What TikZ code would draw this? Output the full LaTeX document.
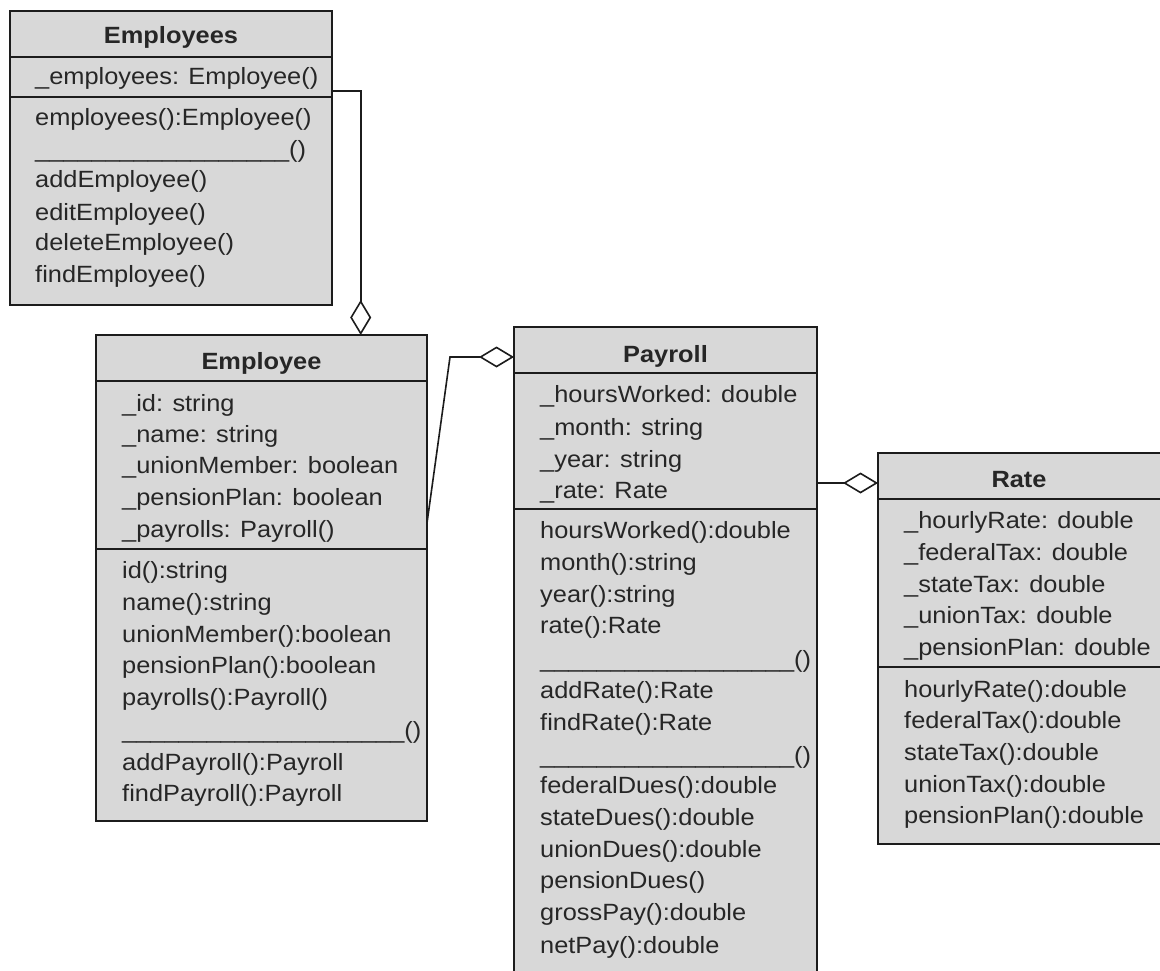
\documentclass[tikz,border=0pt]{standalone}
\usepackage{fontspec}
\setmainfont{Liberation Sans}[FakeStretch=1.08]
\usetikzlibrary{arrows.meta}
\definecolor{boxfill}{HTML}{D8D8D8}
\definecolor{ink}{HTML}{1C1C1C}
\definecolor{txtcol}{HTML}{262626}
\begin{document}
\begin{tikzpicture}[x=1pt,y=-1pt,
  classbox/.style={draw=ink, fill=boxfill, line width=1.8pt, anchor=north west, inner sep=0pt, outer sep=0pt},
  sepline/.style={draw=ink, line width=1.8pt},
  txt/.style={anchor=base west, inner sep=0pt, text=txtcol, font=\fontsize{23.5}{28}\selectfont},
  ttl/.style={anchor=base, inner sep=0pt, text=txtcol, font=\fontsize{23.5}{28}\selectfont\bfseries},
  agg/.style={draw=ink, line width=1.6pt, -{Diamond[open, length=35pt, width=21pt]}}]
\useasboundingbox[fill=white] (0,0) rectangle (1160,971);

% ---------------- Employees ----------------
\node[classbox, minimum width=322pt, minimum height=294pt] (emps) at (10,11) {};
\draw[sepline] ([yshift=-46pt]emps.north west) -- ([yshift=-46pt]emps.north east);
\draw[sepline] ([yshift=-86pt]emps.north west) -- ([yshift=-86pt]emps.north east);
\node[ttl] (empsT) at (171,44) {Employees};
\node[txt] (emps1) at (35,85) {\_employees: Employee()};
\node[txt] (emps2) at (35,126) {employees():Employee()};
\node[txt] (emps3) at (35,158) {\_\_\_\_\_\_\_\_\_\_\_\_\_\_\_\_\_\_()};
\node[txt] (emps4) at (35,188) {addEmployee()};
\node[txt] (emps5) at (35,220) {editEmployee()};
\node[txt] (emps6) at (35,251) {deleteEmployee()};
\node[txt] (emps7) at (35,282) {findEmployee()};

% ---------------- Employee ----------------
\node[classbox, minimum width=331pt, minimum height=486pt] (emp) at (96,335) {};
\draw[sepline] ([yshift=-46pt]emp.north west) -- ([yshift=-46pt]emp.north east);
\draw[sepline] ([yshift=-214pt]emp.north west) -- ([yshift=-214pt]emp.north east);
\node[ttl] (empT) at (261.5,369) {Employee};
\node[txt] (emp1) at (122,411) {\_id: string};
\node[txt] (emp2) at (122,442) {\_name: string};
\node[txt] (emp3) at (122,473) {\_unionMember: boolean};
\node[txt] (emp4) at (122,505) {\_pensionPlan: boolean};
\node[txt] (emp5) at (122,537) {\_payrolls: Payroll()};
\node[txt] (emp6) at (122,578) {id():string};
\node[txt] (emp7) at (122,610) {name():string};
\node[txt] (emp8) at (122,642) {unionMember():boolean};
\node[txt] (emp9) at (122,673) {pensionPlan():boolean};
\node[txt] (emp10) at (122,705) {payrolls():Payroll()};
\node[txt] (emp11) at (122,738) {\_\_\_\_\_\_\_\_\_\_\_\_\_\_\_\_\_\_\_\_()};
\node[txt] (emp12) at (122,770) {addPayroll():Payroll};
\node[txt] (emp13) at (122,801) {findPayroll():Payroll};

% ---------------- Payroll ----------------
\node[classbox, minimum width=303pt, minimum height=660pt] (pay) at (514,327) {};
\draw[sepline] ([yshift=-46pt]pay.north west) -- ([yshift=-46pt]pay.north east);
\draw[sepline] ([yshift=-182pt]pay.north west) -- ([yshift=-182pt]pay.north east);
\node[ttl] (payT) at (665.5,362) {Payroll};
\node[txt] (pay1) at (540,402) {\_hoursWorked: double};
\node[txt] (pay2) at (540,435) {\_month: string};
\node[txt] (pay3) at (540,467) {\_year: string};
\node[txt] (pay4) at (540,498) {\_rate: Rate};
\node[txt] (pay5) at (540,538) {hoursWorked():double};
\node[txt] (pay6) at (540,570) {month():string};
\node[txt] (pay7) at (540,602) {year():string};
\node[txt] (pay8) at (540,633) {rate():Rate};
\node[txt] (pay9) at (540,667) {\_\_\_\_\_\_\_\_\_\_\_\_\_\_\_\_\_\_()};
\node[txt] (pay10) at (540,698) {addRate():Rate};
\node[txt] (pay11) at (540,730) {findRate():Rate};
\node[txt] (pay12) at (540,763) {\_\_\_\_\_\_\_\_\_\_\_\_\_\_\_\_\_\_()};
\node[txt] (pay13) at (540,793) {federalDues():double};
\node[txt] (pay14) at (540,825) {stateDues():double};
\node[txt] (pay15) at (540,857) {unionDues():double};
\node[txt] (pay16) at (540,888) {pensionDues()};
\node[txt] (pay17) at (540,920) {grossPay():double};
\node[txt] (pay18) at (540,953) {netPay():double};

% ---------------- Rate ----------------
\node[classbox, minimum width=284pt, minimum height=391pt] (rate) at (878,453) {};
\draw[sepline] ([yshift=-46pt]rate.north west) -- ([yshift=-46pt]rate.north east);
\draw[sepline] ([yshift=-214pt]rate.north west) -- ([yshift=-214pt]rate.north east);
\node[ttl] (rateT) at (1019,487) {Rate};
\node[txt] (rate1) at (904,528) {\_hourlyRate: double};
\node[txt] (rate2) at (904,560) {\_federalTax: double};
\node[txt] (rate3) at (904,592) {\_stateTax: double};
\node[txt] (rate4) at (904,623) {\_unionTax: double};
\node[txt] (rate5) at (904,655) {\_pensionPlan: double};
\node[txt] (rate6) at (904,697) {hourlyRate():double};
\node[txt] (rate7) at (904,728) {federalTax():double};
\node[txt] (rate8) at (904,760) {stateTax():double};
\node[txt] (rate9) at (904,792) {unionTax():double};
\node[txt] (rate10) at (904,823) {pensionPlan():double};

% ---------------- Connectors ----------------
\draw[agg] ([yshift=-80pt]emps.north east) -| ([xshift=264.7pt]emp.north west);
\draw[agg] ([yshift=-188pt]emp.north east) -- ++(23,-166) -- ([yshift=-30pt]pay.north west);
\draw[agg] ([yshift=-156pt]pay.north east) -- ([yshift=-30pt]rate.north west);
\end{tikzpicture}
\end{document}
